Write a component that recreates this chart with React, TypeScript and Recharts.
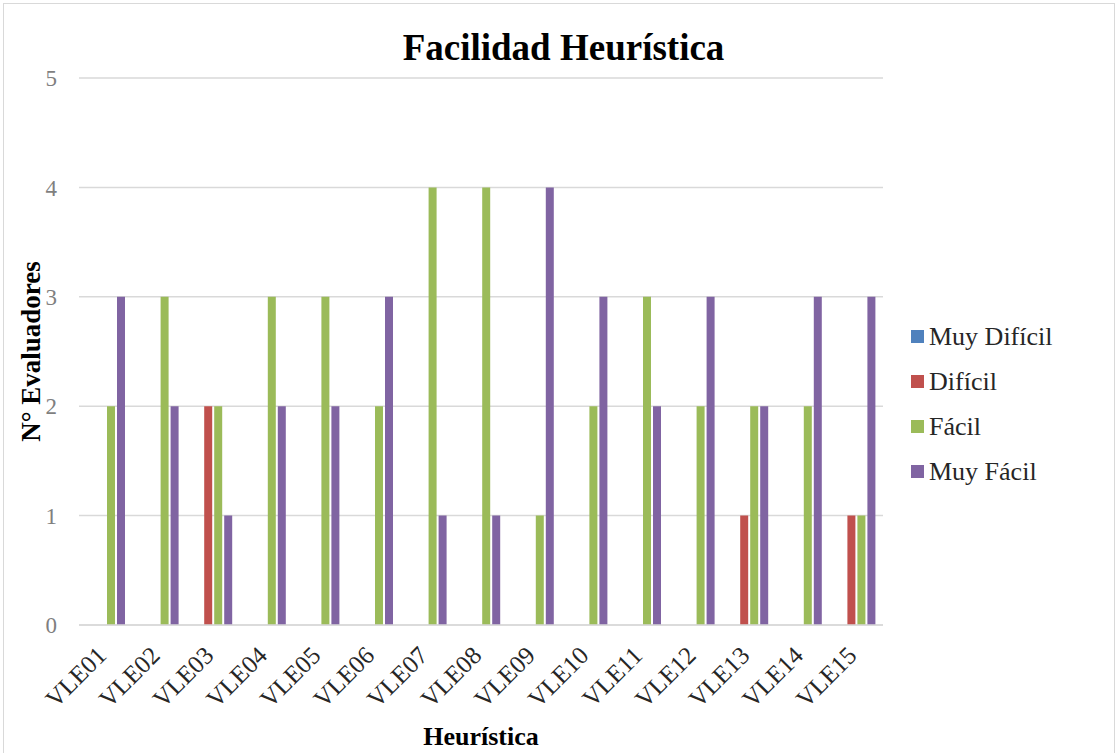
import { BarChart, Bar, XAxis, YAxis, CartesianGrid, Legend } from 'recharts';

const heuristicas = ['VLE01', 'VLE02', 'VLE03', 'VLE04', 'VLE05', 'VLE06', 'VLE07', 'VLE08', 'VLE09', 'VLE10', 'VLE11', 'VLE12', 'VLE13', 'VLE14', 'VLE15'];
const muyDificil = [0, 0, 0, 0, 0, 0, 0, 0, 0, 0, 0, 0, 0, 0, 0];
const dificil = [0, 0, 2, 0, 0, 0, 0, 0, 0, 0, 0, 0, 1, 0, 1];
const facil = [2, 3, 2, 3, 3, 2, 4, 4, 1, 2, 3, 2, 2, 2, 1];
const muyFacil = [3, 2, 1, 2, 2, 3, 1, 1, 4, 3, 2, 3, 2, 3, 3];
const yTicks = [0, 1, 2, 3, 4, 5];

const series = [
  { key: 'muyDificil', name: 'Muy Difícil', color: '#4F81BD' },
  { key: 'dificil', name: 'Difícil', color: '#C0504D' },
  { key: 'facil', name: 'Fácil', color: '#9BBB59' },
  { key: 'muyFacil', name: 'Muy Fácil', color: '#8064A2' },
];

const data = heuristicas.map((h, i) => ({
  name: h,
  muyDificil: muyDificil[i],
  dificil: dificil[i],
  facil: facil[i],
  muyFacil: muyFacil[i],
}));

const FONT = '"Liberation Serif", "Times New Roman", serif';

function RotatedTick(props: any) {
  const { x, y, payload } = props;
  const ax = x + 2;
  const ay = y + 24;
  return (
    <text
      x={ax}
      y={ay}
      transform={`rotate(-45, ${ax}, ${ay})`}
      textAnchor="end"
      fontSize={25}
      fontFamily={FONT}
      fill="#262626"
    >
      {payload.value}
    </text>
  );
}

function LegendList() {
  return (
    <div style={{ fontFamily: FONT, fontSize: 26, color: '#262626' }}>
      {series.map((s) => (
        <div key={s.key} style={{ display: 'flex', alignItems: 'center', height: 45 }}>
          <span style={{ width: 13, height: 13, background: s.color, display: 'inline-block', marginRight: 5 }} />
          {s.name}
        </div>
      ))}
    </div>
  );
}

export default function App() {
  return (
    <div style={{ position: 'absolute', left: 0, top: 0, width: 1117, height: 753, background: '#fff', overflow: 'hidden' }}>
      <div style={{ position: 'absolute', left: 3, top: 3, width: 1110, height: 770, border: '1px solid #d9d9d9' }} />
      <div
        style={{
          position: 'absolute',
          left: 0,
          width: 1127,
          top: 26,
          textAlign: 'center',
          fontFamily: FONT,
          fontWeight: 'bold',
          fontSize: 37,
          color: '#000',
        }}
      >
        Facilidad Heurística
      </div>
      <BarChart
        width={1117}
        height={753}
        data={data}
        margin={{ top: 78, right: 34, bottom: 0, left: 0 }}
        barSize={8}
        barGap={2}
      >
        <CartesianGrid stroke="#d9d9d9" strokeWidth={1.5} vertical={false} />
        <XAxis
          dataKey="name"
          height={128}
          interval={0}
          tick={<RotatedTick />}
          tickLine={false}
          axisLine={{ stroke: '#d9d9d9', strokeWidth: 1.5 }}
          label={{
            value: 'Heurística',
            position: 'insideBottom',
            offset: 8,
            style: { fontFamily: FONT, fontSize: 26, fontWeight: 'bold', fill: '#000' },
          }}
        />
        <YAxis
          width={79}
          domain={[0, 5]}
          ticks={yTicks}
          tickLine={false}
          axisLine={false}
          tickMargin={16}
          tick={{ fontFamily: FONT, fontSize: 23, fill: '#7f7f7f' }}
          label={{
            value: 'N° Evaluadores',
            angle: -90,
            position: 'insideLeft',
            offset: 30,
            style: { fontFamily: FONT, fontSize: 27, fontWeight: 'bold', fill: '#000', textAnchor: 'middle' },
          }}
        />
        <Legend
          layout="horizontal"
          verticalAlign="middle"
          align="right"
          content={<LegendList />}
          wrapperStyle={{ left: 911, top: 314, width: 200 }}
        />
        {series.map((s) => (
          <Bar key={s.key} dataKey={s.key} name={s.name} fill={s.color} isAnimationActive={false} />
        ))}
      </BarChart>
    </div>
  );
}
